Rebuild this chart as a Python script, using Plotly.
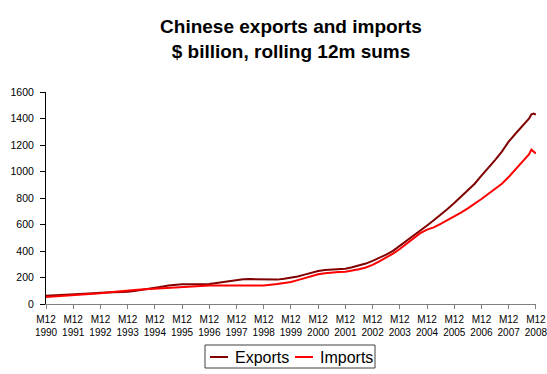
import plotly.graph_objects as go

# Quarter-end dates, Dec 1990 .. Dec 2008 (plus Oct/Nov 2008)
dates = ["1990-12-01"]
for yr in range(1991, 2008):
    for m in ("03", "06", "09", "12"):
        dates.append(f"{yr}-{m}-01")
dates += ["2008-03-01", "2008-06-01", "2008-09-01", "2008-10-01", "2008-11-01", "2008-12-01"]

exports = [62,
           64, 66, 69, 72,
           75, 78, 82, 85,
           86, 88, 90, 92,
           98, 105, 113, 121,
           130, 139, 145, 149,
           150, 148, 149, 151,
           158, 167, 176, 184,
           187, 188, 186, 184,
           183, 184, 190, 196,
           207, 222, 236, 249,
           256, 261, 263, 266,
           277, 289, 305, 326,
           347, 372, 401, 438,
           476, 513, 550, 593,
           632, 673, 717, 762,
           809, 856, 908, 969,
           1024, 1086, 1150, 1225,
           1285, 1340, 1400, 1432, 1438, 1430]

imports = [53,
           56, 58, 61, 64,
           68, 72, 76, 81,
           86, 92, 98, 104,
           106, 109, 112, 116,
           120, 124, 128, 132,
           134, 136, 137, 139,
           139, 140, 141, 142,
           142, 141, 140, 140,
           144, 151, 158, 166,
           180, 194, 210, 225,
           232, 238, 241, 244,
           252, 262, 276, 295,
           322, 350, 380, 415,
           455, 500, 535, 561,
           578, 605, 632, 660,
           690, 722, 755, 792,
           830, 868, 908, 958,
           1015, 1075, 1130, 1165, 1152, 1135]

tick_years = list(range(1990, 2009))
tick_vals = [f"{y}-12-01" for y in tick_years]
tick_text = [f"M12<br>{y}" for y in tick_years]

series_names = ["Exports", "Imports"]
series_colors = ["#800000", "#ff0000"]

fig = go.Figure()
for name, vals, col in zip(series_names, [exports, imports], series_colors):
    fig.add_trace(go.Scatter(x=dates, y=vals, mode="lines", name=name,
                             line=dict(color=col, width=2), showlegend=False))

font_family = "Liberation Sans, Arial, sans-serif"

# plot area in pixels: x 46..536, y 92..304
PL, PR, PT, PB = 46, 536, 92, 304
def px(x):
    return (x - PL) / (PR - PL)
def py(y):
    return (PB - y) / (PB - PT)

shapes = [dict(type="rect", xref="paper", yref="paper",
               x0=px(205), x1=px(375), y0=py(345), y1=py(368),
               line=dict(color="#404040", width=1), fillcolor="white", layer="above")]
annotations = []
leg_items = [(210, 228, 233), (295, 313, 318)]
for (lx0, lx1, tx), name, col in zip(leg_items, series_names, series_colors):
    shapes.append(dict(type="line", xref="paper", yref="paper",
                       x0=px(lx0), x1=px(lx1), y0=py(357), y1=py(357),
                       line=dict(color=col, width=2), layer="above"))
    annotations.append(dict(text=name, xref="paper", yref="paper",
                            x=px(tx), y=py(357), xanchor="left", yanchor="middle",
                            showarrow=False, font=dict(size=16, family=font_family, color="black")))

fig.update_layout(
    width=547, height=374,
    margin=dict(l=PL, r=547 - PR, t=PT, b=374 - PB, autoexpand=False),
    paper_bgcolor="white", plot_bgcolor="white",
    font=dict(family=font_family, color="black"),
    title=dict(text="<b>Chinese exports and imports<br>$ billion, rolling 12m sums</b>",
               x=0.5, xanchor="center", xref="paper", yref="container",
               y=1 - 33 / 374, yanchor="middle",
               font=dict(size=19, family=font_family, color="black")),
    showlegend=False,
    shapes=shapes,
    annotations=annotations,
    xaxis=dict(type="date", range=["1990-12-01", "2008-12-02"],
               tickmode="array", tickvals=tick_vals, ticktext=tick_text,
               tickangle=0, ticks="outside", ticklen=4, tickcolor="#808080",
               showline=True, linecolor="#808080", linewidth=1,
               showgrid=False, zeroline=False, automargin=False,
               ticklabelstandoff=2, ticklabeloverflow="allow",
               tickfont=dict(size=10, family=font_family, color="black")),
    yaxis=dict(range=[0, 1600], tickmode="array",
               tickvals=[0, 200, 400, 600, 800, 1000, 1200, 1400, 1600],
               ticks="outside", ticklen=5, tickcolor="black",
               showline=True, linecolor="black", linewidth=1,
               showgrid=False, zeroline=False, automargin=False,
               ticklabelstandoff=4,
               tickfont=dict(size=10.5, family=font_family, color="black")),
)

fig.write_html("out.html",
               config={"displayModeBar": False},
               post_script="document.body.style.margin='0';document.body.style.padding='0';")
